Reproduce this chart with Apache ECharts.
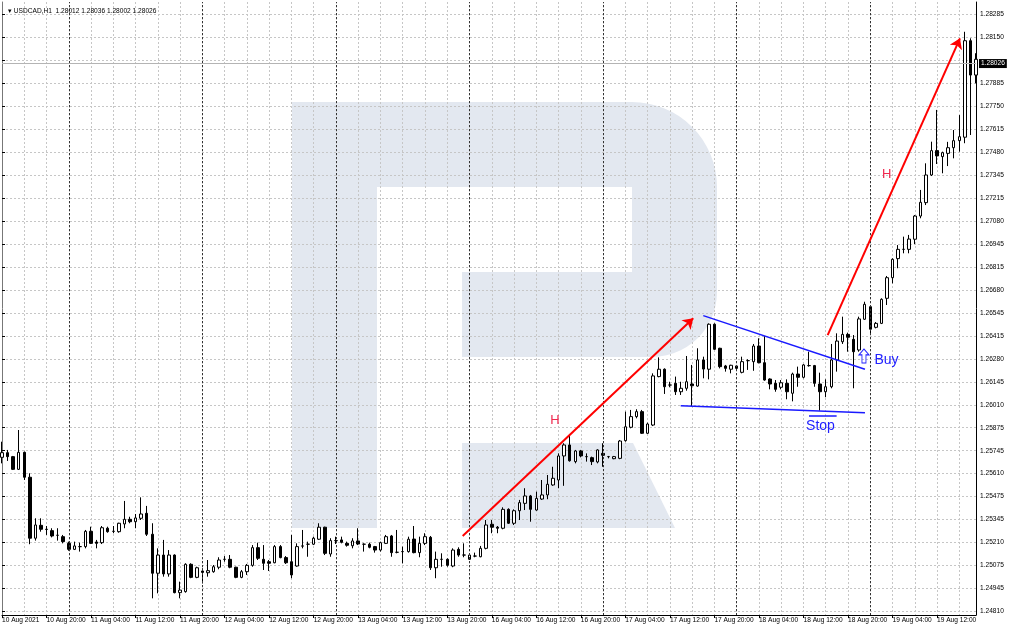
<!DOCTYPE html>
<html><head><meta charset="utf-8">
<script src="https://cdn.jsdelivr.net/npm/echarts@6/dist/echarts.min.js"></script>
<style>html,body{margin:0;padding:0;background:#fff}#c{width:1009px;height:630px}</style>
</head><body><div id="c"></div>
<script>
// ---------- data ----------
const opens = [1.25707,1.25734,1.25711,1.25637,1.25736,1.25591,1.25236,1.25311,1.25288,1.25280,
1.25253,1.25245,1.25206,1.25171,1.25187,1.25187,1.25276,1.25214,1.25210,1.25294,
1.25276,1.25274,1.25319,1.25346,1.25332,1.25352,1.25381,1.25259,1.25032,1.25138,
1.25028,1.25138,1.24919,1.24925,1.25084,1.25008,1.25045,1.25035,1.25041,1.25067,
1.25113,1.25113,1.25067,1.25008,1.25041,1.25078,1.25181,1.25113,1.25099,1.25093,
1.25187,1.25123,1.25099,1.25074,1.25190,1.25201,1.25201,1.25230,1.25300,1.25144,
1.25222,1.25226,1.25206,1.25192,1.25220,1.25201,1.25201,1.25187,1.25167,1.25206,
1.25249,1.25154,1.25158,1.25158,1.25231,1.25152,1.25206,1.25241,1.25064,1.25113,
1.25113,1.25074,1.25171,1.25138,1.25113,1.25132,1.25128,1.25177,1.25317,1.25300,
1.25294,1.25404,1.25323,1.25396,1.25439,1.25482,1.25400,1.25464,1.25488,1.25546,
1.25575,1.25715,1.25779,1.25682,1.25744,1.25711,1.25705,1.25680,1.25730,1.25711,
1.25699,1.25701,1.25804,1.25882,1.25944,1.25973,1.25847,1.25895,1.26177,1.26220,
1.26128,1.26138,1.26089,1.26109,1.26134,1.26122,1.26274,1.26220,1.26482,1.26342,
1.26239,1.26220,1.26239,1.26202,1.26270,1.26264,1.26355,1.26258,1.26163,1.26138,
1.26115,1.26138,1.26080,1.26192,1.26173,1.26241,1.26241,1.26134,1.26089,1.26118,
1.26274,1.26380,1.26423,1.26394,1.26332,1.26511,1.26584,1.26464,1.26487,1.26633,
1.26753,1.26864,1.26918,1.26918,1.26977,1.27112,1.27190,1.27351,1.27493,1.27458,
1.27477,1.27510,1.27551,1.27571,1.28133,1.27933];
const highs = [1.25798,1.25750,1.25715,1.25866,1.25740,1.25614,1.25352,1.25352,1.25307,1.25294,
1.25294,1.25255,1.25216,1.25216,1.25210,1.25284,1.25303,1.25226,1.25307,1.25303,
1.25307,1.25326,1.25453,1.25361,1.25377,1.25474,1.25424,1.25323,1.25177,1.25226,
1.25167,1.25142,1.24983,1.25090,1.25090,1.25070,1.25061,1.25109,1.25080,1.25125,
1.25132,1.25138,1.25070,1.25051,1.25086,1.25196,1.25210,1.25196,1.25109,1.25196,
1.25196,1.25132,1.25255,1.25206,1.25284,1.25216,1.25245,1.25323,1.25303,1.25236,
1.25245,1.25245,1.25216,1.25236,1.25294,1.25206,1.25210,1.25191,1.25216,1.25255,
1.25255,1.25284,1.25187,1.25245,1.25307,1.25245,1.25265,1.25249,1.25158,1.25148,
1.25119,1.25177,1.25183,1.25206,1.25148,1.25152,1.25191,1.25342,1.25342,1.25307,
1.25416,1.25410,1.25404,1.25459,1.25527,1.25488,1.25507,1.25575,1.25604,1.25652,
1.25730,1.25789,1.25837,1.25750,1.25750,1.25730,1.25711,1.25754,1.25789,1.25715,
1.25715,1.25808,1.25973,1.25983,1.25987,1.25983,1.25909,1.26196,1.26289,1.26225,
1.26147,1.26177,1.26147,1.26297,1.26245,1.26342,1.26293,1.26487,1.26487,1.26345,
1.26245,1.26246,1.26245,1.26293,1.26278,1.26367,1.26400,1.26413,1.26167,1.26157,
1.26157,1.26161,1.26200,1.26235,1.26250,1.26322,1.26245,1.26200,1.26161,1.26367,
1.26429,1.26526,1.26433,1.26419,1.26526,1.26613,1.26594,1.26495,1.26633,1.26763,
1.26866,1.26943,1.26992,1.27002,1.27118,1.27264,1.27419,1.27545,1.27730,1.27487,
1.27544,1.27613,1.27700,1.28185,1.28147,1.28060];
const lows = [1.25672,1.25686,1.25633,1.25633,1.25575,1.25201,1.25222,1.25274,1.25255,1.25241,
1.25222,1.25206,1.25163,1.25167,1.25158,1.25177,1.25202,1.25177,1.25202,1.25268,
1.25265,1.25268,1.25294,1.25323,1.25294,1.25342,1.25249,1.24886,1.24915,1.25012,
1.25012,1.24915,1.24886,1.24919,1.25003,1.25003,1.24973,1.25012,1.25035,1.25055,
1.25099,1.25061,1.25003,1.25003,1.25022,1.25070,1.25109,1.25051,1.25045,1.25090,
1.25119,1.25086,1.25003,1.25070,1.25177,1.25128,1.25196,1.25226,1.25138,1.25128,
1.25202,1.25206,1.25187,1.25177,1.25196,1.25158,1.25177,1.25152,1.25158,1.25202,
1.25128,1.25148,1.25090,1.25152,1.25148,1.25125,1.25196,1.25051,1.25003,1.25070,
1.25070,1.25067,1.25128,1.25125,1.25109,1.25125,1.25125,1.25171,1.25265,1.25265,
1.25288,1.25319,1.25313,1.25342,1.25400,1.25332,1.25396,1.25459,1.25463,1.25541,
1.25527,1.25541,1.25682,1.25672,1.25707,1.25682,1.25662,1.25672,1.25652,1.25701,
1.25696,1.25696,1.25798,1.25876,1.25934,1.25843,1.25843,1.25889,1.26173,1.26076,
1.26115,1.26070,1.26070,1.26095,1.26006,1.26118,1.26167,1.26161,1.26332,1.26225,
1.26206,1.26196,1.26216,1.26196,1.26216,1.26211,1.26254,1.26153,1.26103,1.26089,
1.26103,1.26045,1.26033,1.26118,1.26167,1.26235,1.26118,1.25979,1.26057,1.26109,
1.26206,1.26367,1.26322,1.26109,1.26322,1.26507,1.26425,1.26458,1.26483,1.26594,
1.26720,1.26808,1.26895,1.26895,1.26949,1.27099,1.27176,1.27345,1.27415,1.27361,
1.27403,1.27448,1.27487,1.27536,1.27584,1.27885];
const closes = [1.25734,1.25711,1.25637,1.25736,1.25591,1.25236,1.25313,1.25288,1.25287,1.25249,
1.25253,1.25216,1.25171,1.25191,1.25187,1.25276,1.25206,1.25206,1.25297,1.25274,
1.25276,1.25323,1.25346,1.25332,1.25354,1.25377,1.25259,1.25032,1.25138,1.25028,
1.25138,1.24919,1.24934,1.25084,1.25008,1.25064,1.25037,1.25047,1.25070,1.25109,
1.25113,1.25067,1.25008,1.25041,1.25078,1.25181,1.25119,1.25090,1.25090,1.25187,
1.25123,1.25093,1.25022,1.25187,1.25191,1.25201,1.25236,1.25300,1.25148,1.25222,
1.25222,1.25212,1.25195,1.25220,1.25202,1.25201,1.25183,1.25167,1.25210,1.25245,
1.25152,1.25154,1.25158,1.25230,1.25152,1.25206,1.25245,1.25064,1.25113,1.25113,
1.25078,1.25167,1.25138,1.25138,1.25138,1.25132,1.25177,1.25313,1.25300,1.25294,
1.25404,1.25323,1.25396,1.25443,1.25482,1.25404,1.25468,1.25488,1.25550,1.25585,
1.25715,1.25779,1.25687,1.25744,1.25715,1.25711,1.25682,1.25750,1.25719,1.25711,
1.25711,1.25802,1.25885,1.25944,1.25973,1.25847,1.25901,1.26181,1.26220,1.26118,
1.26128,1.26089,1.26109,1.26147,1.26124,1.26274,1.26221,1.26482,1.26336,1.26235,
1.26225,1.26243,1.26225,1.26264,1.26270,1.26355,1.26258,1.26157,1.26134,1.26103,
1.26141,1.26089,1.26192,1.26173,1.26245,1.26241,1.26138,1.26089,1.26118,1.26274,
1.26384,1.26423,1.26406,1.26322,1.26513,1.26598,1.26453,1.26487,1.26627,1.26753,
1.26860,1.26918,1.26918,1.26978,1.27112,1.27192,1.27351,1.27493,1.27462,1.27481,
1.27510,1.27551,1.27574,1.28133,1.27933,1.28025];

const tradingDays = ['10 Aug','11 Aug','12 Aug','13 Aug','16 Aug','17 Aug','18 Aug','19 Aug'];
const xTickLabels = ['10 Aug 2021','10 Aug 20:00','11 Aug 04:00','11 Aug 12:00','11 Aug 20:00','12 Aug 04:00',
 '12 Aug 12:00','12 Aug 20:00','13 Aug 04:00','13 Aug 12:00','13 Aug 20:00','16 Aug 04:00','16 Aug 12:00',
 '16 Aug 20:00','17 Aug 04:00','17 Aug 12:00','17 Aug 20:00','18 Aug 04:00','18 Aug 12:00','18 Aug 20:00',
 '19 Aug 04:00','19 Aug 12:00'];
const yTickLabels = ['1.24810','1.24945','1.25075','1.25210','1.25345','1.25475','1.25610','1.25745','1.25875',
 '1.26010','1.26145','1.26280','1.26415','1.26545','1.26680','1.26815','1.26945','1.27080','1.27215','1.27345',
 '1.27480','1.27615','1.27750','1.27885','','1.28150','1.28285'];
const dayStartIdx = [12,36,60,84,108,132,156];
const bidPrice = 1.28026;
const headerText = '\u25BE USDCAD,H1  1.28012 1.28036 1.28002 1.28026';

// annotations in data space: [barIndex, price, barIndex, price]
const redArrows = [[82.77,1.25249,124.2,1.26517],[148.35,1.26419,172.12,1.28147]];
const blueLines = [[126.0,1.26532,155.05,1.26220],[121.94,1.26008,155.05,1.25967],[144.99,1.25948,149.96,1.25948]];
const noteText = ['H','H','Buy','Stop'];
const noteX = [99.35,158.95,158.91,147.05];
const noteP = [1.25919,1.27357,1.26274,1.25889];
const buyArrow = [154.87,1.26297];

// ---------- build ----------
const pad = n => (n<10?'0':'')+n;
const categories = [];
for (const d of tradingDays) for (let h=0; h<24; h++) {
  if (d==='10 Aug' && h<12) continue;
  if (categories.length < opens.length) categories.push(d+' '+pad(h)+':00');
}
const candles = opens.map((o,i)=>[o, closes[i], lows[i], highs[i]]);

const TICK_MIN = 1.24810, TICK_STEP = 0.0013365, NT = yTickLabels.length-1;
const TICK_MAX = TICK_MIN + NT*TICK_STEP;
const FONT = 'Liberation Sans, Arial, sans-serif';
const FS = 6.6;

// watermark logo (decoration)
function arc(cx,cy,r,a0,a1,n){const p=[];for(let k=0;k<=n;k++){const a=(a0+(a1-a0)*k/n)*Math.PI/180;p.push([cx+r*Math.cos(a),cy+r*Math.sin(a)]);}return p;}
const logoOuter = [[292,102],[632,102]].concat(arc(632,187,85,-90,0,16))
  .concat([[717,292]]).concat(arc(652,292,65,0,90,14))
  .concat([[462,357],[462,272],[632,272],[632,187],[377,187],[377,528],[292,528]]);
const logoLeg = [[462,443],[633,443],[675,528],[462,528]];
const LOGO = '#e3e8f0';

const option = {
  animation:false,
  backgroundColor:'#fff',
  title:{text:headerText,left:3,top:3,textStyle:{fontFamily:FONT,fontSize:FS,fontWeight:'normal',color:'#000'}},
  graphic:[
    {type:'polygon',z:-10,silent:true,shape:{points:logoOuter},style:{fill:LOGO}},
    {type:'polygon',z:-10,silent:true,shape:{points:logoLeg},style:{fill:LOGO}}
  ],
  grid:[
    {left:2,right:33,top:2,bottom:15,outerBoundsMode:'none',containLabel:false},
    {left:2,right:33,top:14.6,bottom:18.63,outerBoundsMode:'none',containLabel:false}
  ],
  xAxis:[
    {type:'category',gridIndex:0,data:categories,boundaryGap:false,
     axisLine:{show:true,lineStyle:{color:'#000',width:1}},
     axisTick:{show:true,interval:7,length:3,lineStyle:{color:'#000'}},
     axisLabel:{show:true,interval:7,align:'left',margin:2,color:'#000',fontFamily:FONT,fontSize:FS,
       formatter:(v,i)=> (i%8===0 && xTickLabels[i/8]) ? xTickLabels[i/8] : ''},
     splitLine:{show:true,interval:3,lineStyle:{color:'#c6c6c6',type:[2,2],width:1}}},
    {type:'value',gridIndex:1,min:0,max:opens.length-1,show:false}
  ],
  yAxis:[
    {type:'value',gridIndex:0,position:'right',min:1.247888,max:1.283584,scale:true,
     axisLine:{show:true,lineStyle:{color:'#000'}},axisTick:{show:false},axisLabel:{show:false},splitLine:{show:false}},
    {type:'value',gridIndex:0,position:'left',min:1.247888,max:1.283584,scale:true,
     axisLine:{show:true,lineStyle:{color:'#777'}},axisTick:{show:false},axisLabel:{show:false},splitLine:{show:false}},
    {type:'value',gridIndex:1,position:'right',min:TICK_MIN,max:TICK_MAX,interval:TICK_STEP,scale:true,
     axisLine:{show:false},
     axisTick:{show:true,length:3,lineStyle:{color:'#000'}},
     axisLabel:{show:true,margin:4,color:'#000',fontFamily:FONT,fontSize:FS,
       formatter:v=>{const k=(v-TICK_MIN)/TICK_STEP;const r=Math.round(k);return Math.abs(k-r)<0.02?(yTickLabels[r]||''):'';}},
     splitLine:{show:true,lineStyle:{color:'#c6c6c6',type:[2,2],width:1}}}
  ],
  series:[
    {type:'candlestick',xAxisIndex:0,yAxisIndex:0,data:candles,barWidth:3,clip:true,
     itemStyle:{color:'#fff',color0:'#000',borderColor:'#000',borderColor0:'#000',borderWidth:1},
     markLine:{silent:true,symbol:'none',animation:false,
       label:{show:false},
       lineStyle:{color:'#333',type:[2,2],width:1},
       data: dayStartIdx.map(i=>({xAxis:i})).concat([
         {yAxis:bidPrice,lineStyle:{color:'#b4b4b4',type:'solid',width:1},
          label:{show:true,position:'end',distance:3,formatter:bidPrice.toFixed(5),color:'#fff',
                 backgroundColor:'#000',padding:[1,2,1,2],fontFamily:FONT,fontSize:FS}}
       ])}
    },
    {type:'lines',coordinateSystem:'cartesian2d',xAxisIndex:1,yAxisIndex:2,z:5,
     symbol:['none','arrow'],symbolSize:[7,10],
     lineStyle:{color:'#ff0000',width:2,opacity:1,curveness:0},
     data:redArrows.map(a=>({coords:[[a[0],a[1]],[a[2],a[3]]]}))},
    {type:'lines',coordinateSystem:'cartesian2d',xAxisIndex:1,yAxisIndex:2,z:5,
     symbol:['none','none'],
     lineStyle:{color:'#1a1aff',width:1.5,opacity:1,curveness:0},
     data:blueLines.map(a=>({coords:[[a[0],a[1]],[a[2],a[3]]]}))},
    {type:'scatter',xAxisIndex:1,yAxisIndex:2,z:6,symbolSize:1,itemStyle:{color:'rgba(0,0,0,0)',opacity:1},silent:true,
     data:noteText.map((t,i)=>({value:[noteX[i],noteP[i]],t:t,
        label:{color: t==='H' ? '#f0284e' : '#2020ff', fontSize: t==='H' ? 13 : 14, opacity:1}})),
     label:{show:true,position:'inside',fontFamily:FONT,opacity:1,textBorderWidth:0,formatter:p=>p.data.t}},
    {type:'scatter',xAxisIndex:1,yAxisIndex:2,z:6,silent:true,
     symbol:'path://M5,0 L10,5.5 L7,5.5 L7,13 L3,13 L3,5.5 L0,5.5 Z',symbolSize:[10,14],
     itemStyle:{color:'rgba(255,255,255,0)',borderColor:'#2020ff',borderWidth:1,opacity:1},
     data:[buyArrow]}
  ]
};
const chart = echarts.init(document.getElementById('c'));
chart.setOption(option);
</script></body></html>
